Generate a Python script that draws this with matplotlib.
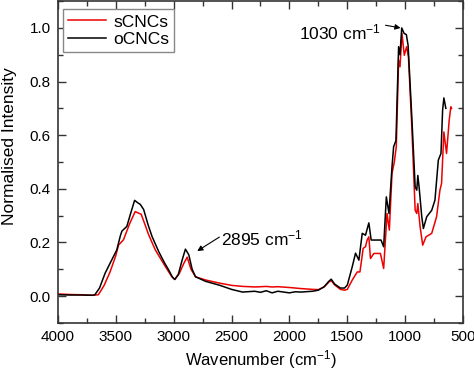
import matplotlib
matplotlib.use("Agg")
import matplotlib.pyplot as plt
from matplotlib.ticker import MultipleLocator, FormatStrFormatter

plt.rcParams['font.family'] = ['Liberation Sans', 'DejaVu Sans']
plt.rcParams['mathtext.default'] = 'regular'

# oCNCs (black) - wavenumber / normalised intensity
o_wn = [4000, 3900, 3800, 3700, 3680, 3640, 3592, 3540, 3491, 3460, 3447, 3404,
        3370, 3337, 3310, 3288, 3259, 3220, 3187, 3129, 3080, 3042, 3010, 2990,
        2960, 2926, 2898, 2869, 2840, 2811, 2724, 2600, 2500, 2405, 2300, 2250,
        2200, 2150, 2100, 2050, 2000, 1950, 1900, 1800, 1750, 1700, 1660, 1639,
        1610, 1560, 1524, 1500, 1457, 1429, 1400, 1371, 1343, 1314, 1294, 1271,
        1209, 1186, 1163, 1140, 1114, 1100, 1080, 1057, 1045, 1030, 1010, 990,
        975, 943, 914, 900, 891, 880, 857, 843, 814, 771, 743, 714, 691, 677,
        666, 649]
o_int = [0.005, 0.004, 0.004, 0.003, 0.005, 0.03, 0.085, 0.13, 0.172, 0.225, 0.242, 0.26,
         0.31, 0.357, 0.348, 0.342, 0.323, 0.265, 0.223, 0.166, 0.125, 0.097, 0.07, 0.062,
         0.08, 0.135, 0.175, 0.154, 0.1, 0.072, 0.055, 0.04, 0.025, 0.015, 0.018, 0.014,
         0.02, 0.012, 0.018, 0.015, 0.012, 0.016, 0.015, 0.018, 0.022, 0.035, 0.055, 0.063,
         0.045, 0.03, 0.03, 0.041, 0.11, 0.16, 0.134, 0.234, 0.227, 0.273, 0.209, 0.209,
         0.209, 0.184, 0.37, 0.308, 0.482, 0.557, 0.58, 0.93, 0.90, 1.0, 0.98, 0.975,
         0.935, 0.668, 0.407, 0.395, 0.45, 0.407, 0.296, 0.252, 0.296, 0.32, 0.358, 0.507,
         0.532, 0.693, 0.739, 0.70]

# sCNCs (red)
s_wn = [4000, 3900, 3800, 3700, 3650, 3600, 3549, 3500, 3476, 3433, 3380, 3332,
        3280, 3250, 3216, 3158, 3071, 3020, 2990, 2950, 2912, 2883, 2850, 2811,
        2724, 2600, 2500, 2400, 2290, 2200, 2150, 2100, 2000, 1900, 1800, 1750,
        1700, 1660, 1639, 1610, 1560, 1524, 1500, 1457, 1414, 1391, 1363, 1343,
        1329, 1314, 1300, 1271, 1214, 1186, 1157, 1137, 1114, 1094, 1077, 1057,
        1045, 1028, 1008, 988, 972, 943, 914, 900, 891, 871, 849, 820, 771, 729,
        700, 686, 666, 643, 620, 606, 600]
s_int = [0.008, 0.006, 0.005, 0.003, 0.005, 0.04, 0.09, 0.15, 0.19, 0.21, 0.27, 0.315,
         0.305, 0.27, 0.229, 0.172, 0.11, 0.075, 0.062, 0.085, 0.122, 0.145, 0.1, 0.072,
         0.06, 0.048, 0.04, 0.036, 0.034, 0.036, 0.034, 0.035, 0.032, 0.028, 0.025, 0.024,
         0.034, 0.052, 0.058, 0.042, 0.025, 0.022, 0.025, 0.06, 0.09, 0.09, 0.178, 0.184,
         0.209, 0.221, 0.14, 0.159, 0.159, 0.103, 0.308, 0.246, 0.457, 0.50, 0.557, 0.88,
         0.855, 0.98, 0.898, 0.93, 0.892, 0.631, 0.32, 0.308, 0.345, 0.258, 0.19, 0.221,
         0.234, 0.296, 0.395, 0.42, 0.612, 0.532, 0.656, 0.706, 0.70]

fig = plt.figure(figsize=(4.74, 3.72), dpi=100)
ax = fig.add_axes([0.122, 0.132, 0.855, 0.865])

ax.plot(s_wn, s_int, color='#ee0000', lw=1.1, label='sCNCs')
ax.plot(o_wn, o_int, color='black', lw=1.1, label='oCNCs')

ax.set_xlim(4000, 500)
ax.set_ylim(-0.1, 1.1)
ax.xaxis.set_major_locator(MultipleLocator(500))
ax.xaxis.set_minor_locator(MultipleLocator(250))
ax.set_yticks([0.0, 0.2, 0.4, 0.6, 0.8, 1.0])
ax.yaxis.set_minor_locator(MultipleLocator(0.1))
ax.yaxis.set_major_formatter(FormatStrFormatter('%.1f'))

ax.tick_params(which='both', direction='in', top=True, right=True, labelsize=11,
               color='#333333', width=1.0)
ax.tick_params(which='major', length=6, pad=5)
ax.tick_params(which='minor', length=3.5)
for sp in ax.spines.values():
    sp.set_color('#333333')
    sp.set_linewidth(1.2)

ax.set_xlabel('Wavenumber (cm$^{-1}$)', fontsize=12, labelpad=3)
ax.set_ylabel('Normalised Intensity', fontsize=12.5)
ax.yaxis.set_label_coords(-0.1, 0.55)

# peak labels
ax.text(1210, 0.984, '1030 cm$^{-1}$', fontsize=12.5, ha='right', va='center')
ax.annotate('', xy=(1040, 1.0), xytext=(1170, 1.01),
            arrowprops=dict(arrowstyle='-|>', color='black', lw=0.8, mutation_scale=8,
                            shrinkA=0, shrinkB=0))
ax.text(2588, 0.215, '2895 cm$^{-1}$', fontsize=12.5, ha='left', va='center')
ax.annotate('', xy=(2796, 0.168), xytext=(2605, 0.22),
            arrowprops=dict(arrowstyle='-|>', color='black', lw=0.8, mutation_scale=8,
                            shrinkA=0, shrinkB=0))

leg = ax.legend(loc='upper left', bbox_to_anchor=(0.012, 0.975), borderaxespad=0,
                fontsize=12.5, handlelength=2.2, handletextpad=0.4, labelspacing=0.15,
                borderpad=0.3, fancybox=False, framealpha=1)
leg.get_frame().set_edgecolor('#888888')
leg.get_frame().set_linewidth(1.0)

fig.savefig('out.png', dpi=100)
